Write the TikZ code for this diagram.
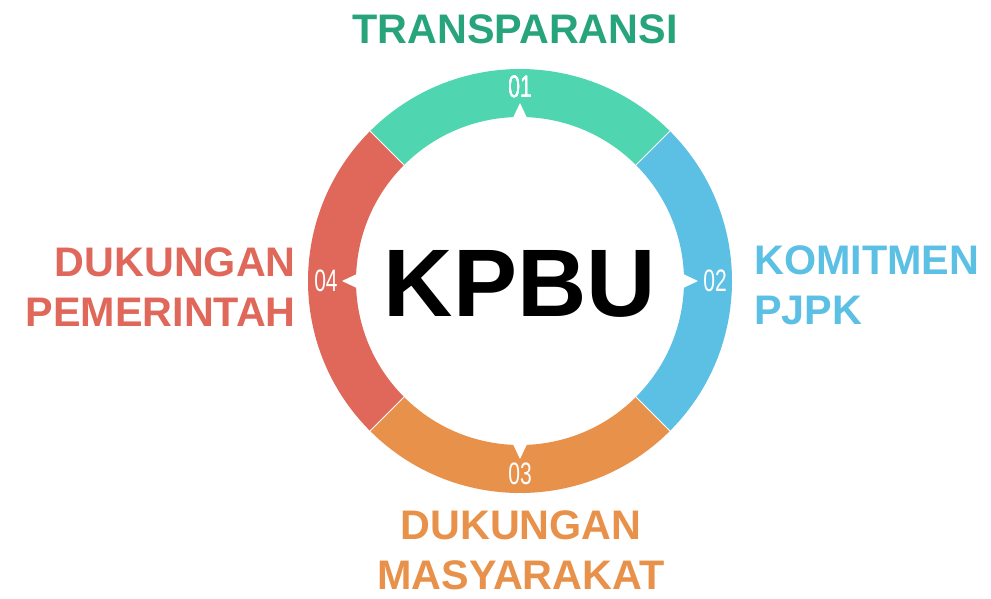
\documentclass[tikz,border=0pt]{standalone}
\usepackage{fontspec}
\setmainfont{Liberation Sans}
\usetikzlibrary{calc}
\definecolor{cgreen}{HTML}{4FD6B1}
\definecolor{cgreentxt}{HTML}{28A47C}
\definecolor{cblue}{HTML}{5BC0E4}
\definecolor{corange}{HTML}{E8914A}
\definecolor{cred}{HTML}{E0685A}
\tikzset{
  label/.style={inner sep=0pt, font=\fontsize{41.3}{50}\selectfont\bfseries},
  num/.style={inner sep=0pt, text=white, font=\fontsize{31}{31}\selectfont},
  notch/.style={fill=white},
}
\newcommand{\segm}[3]{% color, start, end
  \fill[#1] ($(C)+(#2:212)$) arc (#2:#3:212) -- ($(C)+(#3:164)$) arc (#3:#2:164) -- cycle;}
\newcommand{\notchat}[1]{%
  \fill[notch] ($(C)+(#1:160)+(#1+90:8.5)$) -- ($(C)+(#1:178)$) -- ($(C)+(#1:160)+(#1-90:8.5)$) -- cycle;}
\begin{document}
\begin{tikzpicture}[x=1pt,y=1pt]
\useasboundingbox (0,0) rectangle (991,-598);
\coordinate (C) at (520,-281);
\segm{cgreen}{45}{135}
\segm{cblue}{-45}{45}
\segm{corange}{225}{315}
\segm{cred}{135}{225}
\foreach \a in {45,135,225,315}
  \draw[white, line width=1pt] ($(C)+(\a:163)$) -- ($(C)+(\a:213)$);
\foreach \a in {90,0,270,180} \notchat{\a}
\node[num] (n1) at (520,-87) {\scalebox{0.68}[1]{01}};
\node[num] (n2) at (715,-281) {\scalebox{0.68}[1]{02}};
\node[num] (n3) at (520,-474) {\scalebox{0.68}[1]{03}};
\node[num] (n4) at (326,-281) {\scalebox{0.68}[1]{04}};
\node[inner sep=0pt, font=\fontsize{96}{96}\selectfont\bfseries, anchor=base] (kpbu) at (520,-316) {KPBU};
\node[label, text=cgreentxt, anchor=base] (t1) at (515,-43) {TRANSPARANSI};
\node[label, text=cblue, align=left, anchor=north west] (t2) at (754,-245.5) {KOMITMEN\\PJPK};
\node[label, text=corange, align=center, anchor=north] (t3) at (521,-510) {DUKUNGAN\\MASYARAKAT};
\node[label, text=cred, align=right, anchor=north east] (t4) at (296,-247) {DUKUNGAN\\PEMERINTAH};
\end{tikzpicture}
\end{document}
